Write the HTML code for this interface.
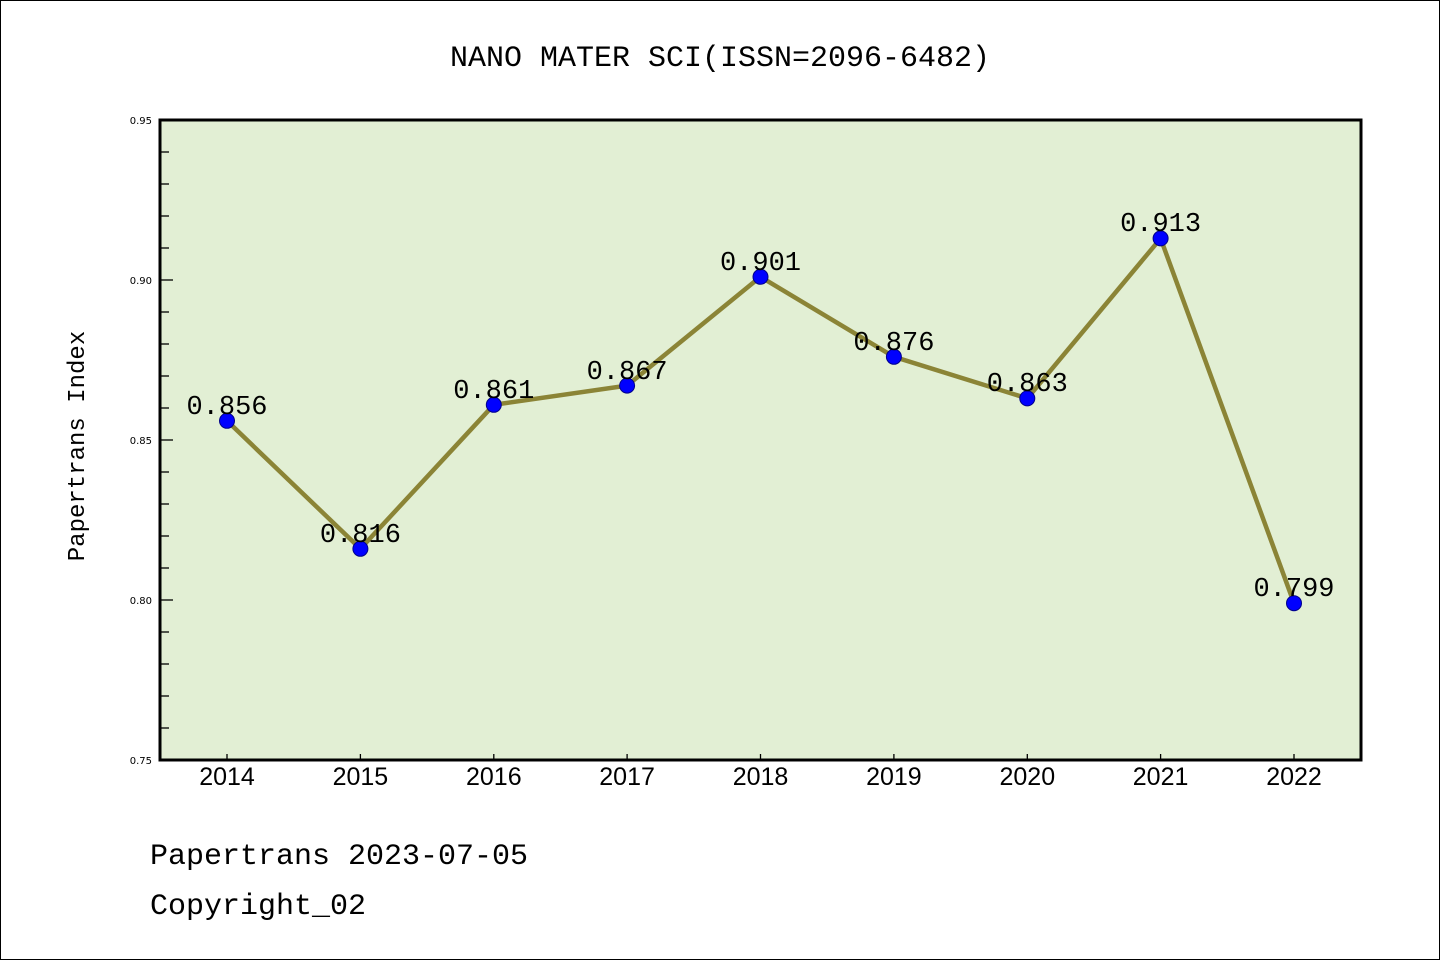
<!DOCTYPE html>
<html><head><meta charset="utf-8"><style>
html,body{margin:0;padding:0;background:#fff}
svg{display:block}
</style></head><body>
<svg width="1440" height="960" xmlns="http://www.w3.org/2000/svg">
<rect x="0.5" y="0.5" width="1439" height="959" fill="#fff" stroke="#000" stroke-width="1"/>
<text x="720" y="66" text-anchor="middle" font-family="Liberation Mono, monospace" font-size="30" fill="#000">NANO MATER SCI(ISSN=2096-6482)</text>
<rect x="160" y="120" width="1201" height="640" fill="#e2efd4"/>
<g stroke="#000" stroke-width="1.3">
<line x1="160" y1="280" x2="173" y2="280"/><line x1="160" y1="440" x2="173" y2="440"/><line x1="160" y1="600" x2="173" y2="600"/>
<line x1="160" y1="152" x2="169" y2="152"/><line x1="160" y1="184" x2="169" y2="184"/><line x1="160" y1="216" x2="169" y2="216"/><line x1="160" y1="248" x2="169" y2="248"/>
<line x1="160" y1="312" x2="169" y2="312"/><line x1="160" y1="344" x2="169" y2="344"/><line x1="160" y1="376" x2="169" y2="376"/><line x1="160" y1="408" x2="169" y2="408"/>
<line x1="160" y1="472" x2="169" y2="472"/><line x1="160" y1="504" x2="169" y2="504"/><line x1="160" y1="536" x2="169" y2="536"/><line x1="160" y1="568" x2="169" y2="568"/>
<line x1="160" y1="632" x2="169" y2="632"/><line x1="160" y1="664" x2="169" y2="664"/><line x1="160" y1="696" x2="169" y2="696"/><line x1="160" y1="728" x2="169" y2="728"/>
<line x1="227" y1="760" x2="227" y2="754"/><line x1="360.4" y1="760" x2="360.4" y2="754"/><line x1="493.8" y1="760" x2="493.8" y2="754"/><line x1="627.1" y1="760" x2="627.1" y2="754"/><line x1="760.5" y1="760" x2="760.5" y2="754"/><line x1="893.9" y1="760" x2="893.9" y2="754"/><line x1="1027.3" y1="760" x2="1027.3" y2="754"/><line x1="1160.6" y1="760" x2="1160.6" y2="754"/><line x1="1294" y1="760" x2="1294" y2="754"/>
</g>
<rect x="160" y="120" width="1201" height="640" fill="none" stroke="#000" stroke-width="3"/>
<g font-family="DejaVu Sans, sans-serif" font-size="10" text-anchor="end" fill="#000">
<text x="152" y="124">0.95</text><text x="152" y="284">0.90</text><text x="152" y="444">0.85</text><text x="152" y="604">0.80</text><text x="152" y="764">0.75</text>
</g>
<g font-family="Liberation Sans, sans-serif" font-size="25" text-anchor="middle" fill="#000">
<text x="227" y="785">2014</text><text x="360.4" y="785">2015</text><text x="493.8" y="785">2016</text><text x="627.1" y="785">2017</text><text x="760.5" y="785">2018</text><text x="893.9" y="785">2019</text><text x="1027.3" y="785">2020</text><text x="1160.6" y="785">2021</text><text x="1294" y="785">2022</text>
</g>
<text transform="translate(84,446) rotate(-90)" text-anchor="middle" font-family="Liberation Mono, monospace" font-size="24" fill="#000">Papertrans Index</text>
<polyline fill="none" stroke="#8b8436" stroke-width="4.5" points="227,420.8 360.4,548.8 493.8,404.8 627.1,385.6 760.5,276.8 893.9,356.8 1027.3,398.4 1160.6,238.4 1294,603.2"/>
<g fill="#0000ff" stroke="#00008b" stroke-width="1">
<circle cx="227" cy="420.8" r="7.5"/><circle cx="360.4" cy="548.8" r="7.5"/><circle cx="493.8" cy="404.8" r="7.5"/><circle cx="627.1" cy="385.6" r="7.5"/><circle cx="760.5" cy="276.8" r="7.5"/><circle cx="893.9" cy="356.8" r="7.5"/><circle cx="1027.3" cy="398.4" r="7.5"/><circle cx="1160.6" cy="238.4" r="7.5"/><circle cx="1294" cy="603.2" r="7.5"/>
</g>
<g font-family="Liberation Mono, monospace" font-size="27" text-anchor="middle" fill="#000">
<text x="227" y="414">0.856</text><text x="360.4" y="542">0.816</text><text x="493.8" y="398">0.861</text><text x="627.1" y="379">0.867</text><text x="760.5" y="270">0.901</text><text x="893.9" y="350">0.876</text><text x="1027.3" y="391">0.863</text><text x="1160.6" y="231">0.913</text><text x="1294" y="596">0.799</text>
</g>
<g font-family="Liberation Mono, monospace" font-size="30" fill="#000">
<text x="150" y="864">Papertrans 2023-07-05</text>
<text x="150" y="914">Copyright_02</text>
</g>
</svg>
</body></html>
